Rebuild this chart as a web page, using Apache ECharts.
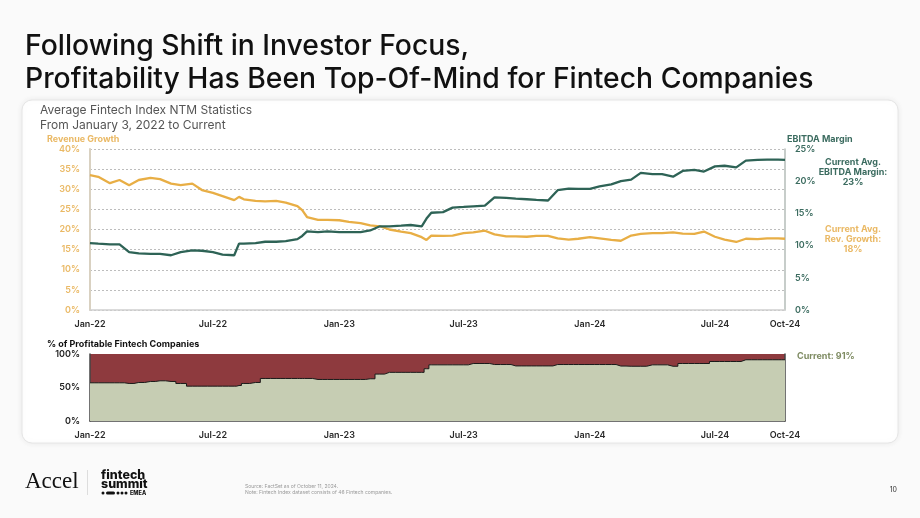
<!DOCTYPE html>
<html><head><meta charset="utf-8">
<script src="https://cdn.jsdelivr.net/npm/echarts@6/dist/echarts.min.js"></script>
<style>html,body{margin:0;padding:0;background:#fafafa}#c{width:920px;height:518px}</style>
</head><body><div id="c"></div>
<script>
const dates = ['2022-01-03','2022-01-15','2022-02-01','2022-02-15','2022-03-01','2022-03-15','2022-04-01','2022-04-15','2022-05-01','2022-05-15','2022-06-01','2022-06-15','2022-07-01','2022-07-15','2022-08-01','2022-08-08','2022-08-15','2022-09-01','2022-09-15','2022-10-01','2022-10-15','2022-11-01','2022-11-08','2022-11-15','2022-12-01','2022-12-15',
'2023-01-01','2023-01-15','2023-02-01','2023-02-15','2023-03-01','2023-03-15','2023-04-01','2023-04-15','2023-05-01','2023-05-08','2023-05-15','2023-06-01','2023-06-15','2023-07-01','2023-07-15','2023-08-01','2023-08-15','2023-09-01','2023-09-15','2023-10-01','2023-10-15','2023-11-01','2023-11-15','2023-12-01','2023-12-15',
'2024-01-01','2024-01-15','2024-02-01','2024-02-15','2024-03-01','2024-03-15','2024-04-01','2024-04-15','2024-05-01','2024-05-15','2024-06-01','2024-06-15','2024-07-01','2024-07-15','2024-08-01','2024-08-15','2024-09-01','2024-09-15','2024-10-01','2024-10-11'];

const revenueGrowth = [33.5,33.1,31.5,32.3,31.0,32.3,32.8,32.5,31.4,31.0,31.4,29.8,29.1,28.3,27.3,28.1,27.5,27.1,27.0,27.1,26.7,25.8,24.8,23.1,22.4,22.4,
22.3,21.9,21.6,21.0,20.8,20.0,19.5,19.1,18.1,17.4,18.5,18.4,18.5,19.1,19.3,19.7,18.8,18.3,18.3,18.2,18.4,18.4,17.8,17.5,17.7,
18.1,17.8,17.4,17.2,18.5,18.9,19.1,19.1,19.3,19.0,18.9,19.5,18.2,17.5,16.9,17.7,17.6,17.8,17.8,17.7];

const ebitdaMargin = [10.4,10.3,10.2,10.2,9.0,8.8,8.7,8.7,8.5,9.0,9.25,9.2,9.0,8.6,8.5,10.3,10.3,10.4,10.6,10.6,10.7,11.0,11.5,12.2,12.1,12.2,
12.1,12.1,12.1,12.35,13.0,13.0,13.1,13.2,13.0,14.2,15.1,15.2,15.9,16.0,16.1,16.2,17.5,17.4,17.3,17.2,17.1,17.0,18.6,18.85,18.8,
18.8,19.2,19.5,20.0,20.25,21.3,21.1,21.1,20.7,21.6,21.75,21.5,22.3,22.4,22.15,23.2,23.3,23.35,23.35,23.3];

const profitablePct = [57,57,57,57,56,57.5,59,60,59,56,52,52,52,52,52,53,56,57.5,63.5,63.5,63.5,63.5,63.5,63.5,62,62,
62,62,62,63,70,72.6,72.6,72.6,72.6,78,83.8,83.8,83.8,83.8,85.8,85.8,84.3,84.3,82.2,82.2,82.2,82.2,84.3,84.3,84.3,
84.3,84.3,84.3,82,81.7,81.7,83.8,83.8,81.7,85.8,85.8,85.8,88.8,88.8,88.8,91.4,91.4,91.4,91.4,91.4];

const tickDates = ['2022-01-03','2022-07-01','2023-01-01','2023-07-01','2024-01-01','2024-07-01','2024-10-11'];
const tickLabels = ['Jan-22','Jul-22','Jan-23','Jul-23','Jan-24','Jul-24','Oct-24'];

const FONT = 'Inter';
const GOLD = '#E8AE45', GOLDTXT = '#EAB965', GREEN = '#2E6356', GREENTXT = '#3C6C60';
const ts = d => echarts.number.parseDate(d).getTime();
const tickTs = tickDates.map(ts);
const fmt = v => { const i = tickTs.indexOf(v); return i >= 0 ? tickLabels[i] : ''; };
const pairs = arr => dates.map((d, i) => [ts(d), arr[i]]);

const xLabel = () => ({customValues: tickTs, formatter: fmt, color: '#2a2a2a', fontFamily: FONT, fontWeight: 600, fontSize: 9, margin: 10, showMinLabel: true, showMaxLabel: true, hideOverlap: false});

const chart = echarts.init(document.getElementById('c'), null, {renderer: 'canvas'});
const txt = (x, y, text, o) => ({type: 'text', x, y, z: 50, style: Object.assign({text, fontFamily: FONT, fill: '#222', fontSize: 10, verticalAlign: 'middle'}, o || {})});

chart.setOption({
  backgroundColor: '#fafafa',
  animation: false,
  grid: [
    {left: 90, right: 135, top: 149, height: 161},
    {left: 90, right: 135, top: 354, height: 67, show: true, backgroundColor: '#8E3A3E', borderWidth: 0}
  ],
  xAxis: [
    {type: 'value', gridIndex: 0, min: tickTs[0], max: tickTs[6],
     axisLine: {show: true, lineStyle: {color: '#cfcfcf', width: 1.5}}, axisTick: {show: false}, splitLine: {show: false},
     axisLabel: xLabel()},
    {type: 'value', gridIndex: 1, min: tickTs[0], max: tickTs[6],
     axisLine: {show: true, lineStyle: {color: '#444', width: 1.5}}, axisTick: {show: false}, splitLine: {show: false},
     axisLabel: xLabel()}
  ],
  yAxis: [
    {type: 'value', gridIndex: 0, min: 0, max: 40, interval: 5,
     axisLabel: {formatter: '{value}%', color: GOLDTXT, fontFamily: FONT, fontWeight: 600, fontSize: 9, margin: 10},
     axisLine: {show: true, lineStyle: {color: '#D9D1C1', width: 2}}, axisTick: {show: false},
     splitLine: {show: true, lineStyle: {type: [2, 2], color: '#BDBDBD', width: 1}}},
    {type: 'value', gridIndex: 0, position: 'right', min: 0, max: 25, interval: 5,
     axisLabel: {formatter: '{value}%', color: GREENTXT, fontFamily: FONT, fontWeight: 600, fontSize: 9, margin: 10},
     axisLine: {show: true, lineStyle: {color: '#B5BDB8', width: 1.5}}, axisTick: {show: false}, splitLine: {show: false}},
    {type: 'value', gridIndex: 1, min: 0, max: 100, interval: 50,
     axisLabel: {formatter: '{value}%', color: '#222', fontFamily: FONT, fontWeight: 600, fontSize: 9, margin: 10},
     axisLine: {show: true, lineStyle: {color: '#444', width: 1.5}}, axisTick: {show: false}, splitLine: {show: false}},
    {type: 'value', gridIndex: 1, position: 'right', min: 0, max: 100, interval: 50,
     axisLabel: {show: false}, axisLine: {show: true, lineStyle: {color: '#444', width: 1.5}}, axisTick: {show: false}, splitLine: {show: false}}
  ],
  series: [
    {type: 'line', name: 'Revenue Growth', xAxisIndex: 0, yAxisIndex: 0, data: pairs(revenueGrowth), showSymbol: false, symbol: 'none',
     lineStyle: {color: GOLD, width: 2.3}, z: 3},
    {type: 'line', name: 'EBITDA Margin', xAxisIndex: 0, yAxisIndex: 1, data: pairs(ebitdaMargin), showSymbol: false, symbol: 'none',
     lineStyle: {color: GREEN, width: 2.3}, z: 4},
    {type: 'line', name: '% Profitable', xAxisIndex: 1, yAxisIndex: 2, data: pairs(profitablePct), showSymbol: false, symbol: 'none', step: 'middle',
     lineStyle: {color: '#1a1a1a', width: 1}, areaStyle: {color: '#C6CDB3', opacity: 1}}
  ],
  graphic: [
    {type: 'rect', z: -10, shape: {x: 22, y: 100, width: 876, height: 343, r: 10},
     style: {fill: '#ffffff', stroke: '#e6e6e6', lineWidth: 1, shadowBlur: 6, shadowColor: 'rgba(0,0,0,0.07)'}},
    txt(25, 46, 'Following Shift in Investor Focus,', {fontSize: 28.3, fontWeight: 500, fill: '#111'}),
    txt(25, 79, 'Profitability Has Been Top-Of-Mind for Fintech Companies', {fontSize: 28.3, fontWeight: 500, fill: '#111'}),
    txt(40, 110, 'Average Fintech Index NTM Statistics', {fontSize: 12, fill: '#555'}),
    txt(40, 125, 'From January 3, 2022 to Current', {fontSize: 12, fill: '#555'}),
    txt(47, 139, 'Revenue Growth', {fontSize: 9, fontWeight: 700, fill: GOLDTXT}),
    txt(787, 139, 'EBITDA Margin', {fontSize: 9, fontWeight: 700, fill: GREENTXT}),
    txt(853, 162, 'Current Avg.', {fontSize: 9, fontWeight: 700, fill: GREENTXT, align: 'center'}),
    txt(853, 172, 'EBITDA Margin:', {fontSize: 9, fontWeight: 700, fill: GREENTXT, align: 'center'}),
    txt(853, 182, '23%', {fontSize: 9, fontWeight: 700, fill: GREENTXT, align: 'center'}),
    txt(853, 229, 'Current Avg.', {fontSize: 9, fontWeight: 700, fill: GOLDTXT, align: 'center'}),
    txt(853, 239, 'Rev. Growth:', {fontSize: 9, fontWeight: 700, fill: GOLDTXT, align: 'center'}),
    txt(853, 249, '18%', {fontSize: 9, fontWeight: 700, fill: GOLDTXT, align: 'center'}),
    txt(47, 344, '% of Profitable Fintech Companies', {fontSize: 9, fontWeight: 700, fill: '#111'}),
    txt(797, 356, 'Current: 91%', {fontSize: 9, fontWeight: 700, fill: '#7E8B62'}),
    txt(25, 482, 'Accel', {fontSize: 23, fontFamily: 'Liberation Serif', fill: '#111'}),
    {type: 'rect', z: 50, shape: {x: 87, y: 470, width: 1, height: 25}, style: {fill: '#dddddd'}},
    txt(101, 475, 'fintech', {fontSize: 12.5, fontWeight: 800, fill: '#111'}),
    txt(101, 484, 'summit', {fontSize: 12.5, fontWeight: 800, fill: '#111'}),
    {type: 'circle', z: 50, shape: {cx: 103, cy: 493, r: 1.5}, style: {fill: '#111'}},
    {type: 'rect', z: 50, shape: {x: 106, y: 491.5, width: 9, height: 3, r: 1.5}, style: {fill: '#111'}},
    {type: 'circle', z: 50, shape: {cx: 118, cy: 493, r: 1.5}, style: {fill: '#111'}},
    {type: 'circle', z: 50, shape: {cx: 122, cy: 493, r: 1.5}, style: {fill: '#111'}},
    {type: 'circle', z: 50, shape: {cx: 126, cy: 493, r: 1.5}, style: {fill: '#111'}},
    txt(130, 493, 'EMEA', {fontSize: 5.5, fontWeight: 800, fill: '#111'}),
    txt(245, 486, 'Source: FactSet as of October 11, 2024.', {fontSize: 5, fill: '#999'}),
    txt(245, 492, 'Note: Fintech Index dataset consists of 46 Fintech companies.', {fontSize: 5, fill: '#999'}),
    txt(897, 490, '10', {fontSize: 7, fill: '#333', align: 'right'})
  ]
});
</script></body></html>
